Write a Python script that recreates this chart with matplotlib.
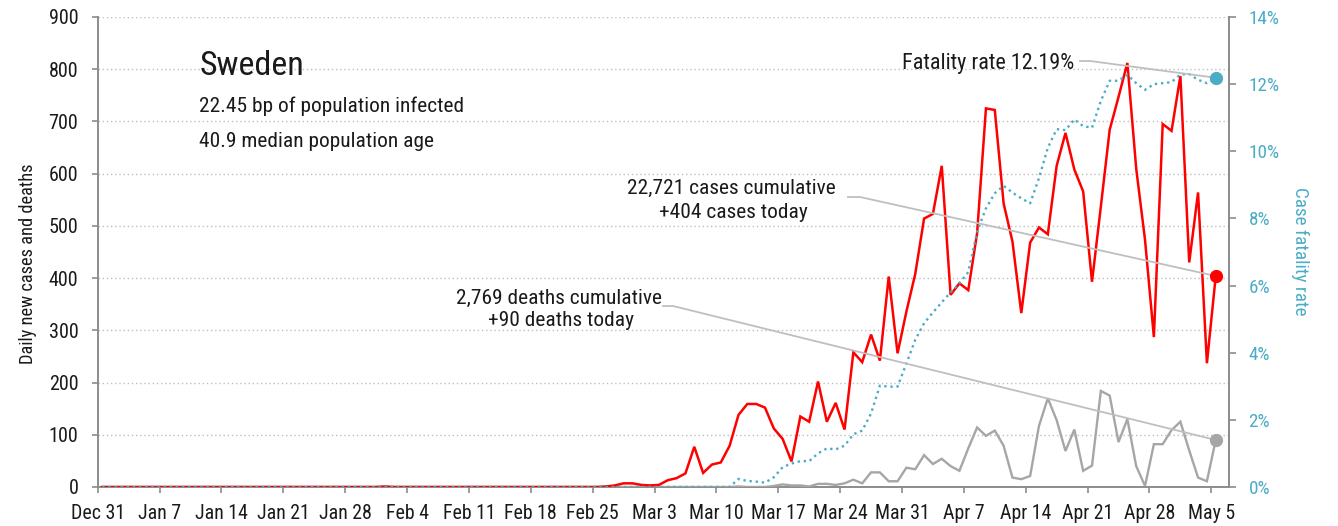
import matplotlib
matplotlib.use("Agg")
import matplotlib.pyplot as plt
import matplotlib.dates as mdates
from matplotlib.lines import Line2D
import pandas as pd

# ---------------- data ----------------
start_date = "2019-12-31"
country = "Sweden"
info_lines = ["22.45 bp of population infected", "40.9 median population age"]
total_cases = 22721
total_deaths = 2769
final_rate = 12.19

# daily new cases, Dec 31 .. May 5
cases = [
    0, 0, 0, 0, 0, 0, 0, 0, 0, 0, 0, 0, 0, 0, 0, 0,
    0, 0, 0, 0, 0, 0, 0, 0, 0, 0, 0, 0, 0, 0, 0, 0,
    1, 0, 0, 0, 0, 0, 0, 0, 0, 0, 0, 0, 0, 0, 0, 0,
    0, 0, 0, 0, 0, 0, 0, 0, 0,
    1, 3, 7, 7, 4, 3, 4, 13, 17, 26,
    77, 27, 43, 47, 79, 138, 159, 159, 152, 112,
    92, 49, 135, 125, 202, 125, 161, 110, 258, 239,
    292, 242, 403, 256, 336, 408, 514, 523, 615, 368,
    390, 377, 486, 725, 722, 543, 470, 333, 468, 497,
    484, 615, 678, 608, 566, 393, 537, 684, 747, 812,
    610, 473, 287, 695, 682, 787, 430, 564, 237, 404,
]

# daily new deaths
deaths = [
    0, 0, 0, 0, 0, 0, 0, 0, 0, 0, 0, 0, 0, 0, 0, 0,
    0, 0, 0, 0, 0, 0, 0, 0, 0, 0, 0, 0, 0, 0, 0, 0,
    0, 0, 0, 0, 0, 0, 0, 0, 0, 0, 0, 0, 0, 0, 0, 0,
    0, 0, 0, 0, 0, 0, 0, 0, 0, 0, 0, 0, 0, 0, 0, 0,
    0, 0, 0, 0, 0, 0, 0,
    0, 1, 0, 0, 0, 2, 5, 3, 3, 1,
    6, 6, 4, 7, 14, 7, 28, 28, 11, 11,
    37, 34, 61, 44, 54, 40, 31, 74, 114, 98,
    108, 79, 18, 15, 21, 117, 170, 128, 69, 110,
    31, 41, 184, 175, 86, 130, 40, 2, 82, 82,
    109, 125, 70, 18, 11, 90,
]

# case fatality rate, %
fatality_rate = [
    0, 0, 0, 0, 0, 0, 0, 0, 0, 0, 0, 0, 0, 0, 0, 0,
    0, 0, 0, 0, 0, 0, 0, 0, 0, 0, 0, 0, 0, 0, 0, 0,
    0, 0, 0, 0, 0, 0, 0, 0, 0, 0, 0, 0, 0, 0, 0, 0,
    0, 0, 0, 0, 0, 0, 0, 0, 0, 0, 0, 0, 0, 0, 0, 0,
    0, 0, 0, 0, 0, 0, 0, 0,
    0.24, 0.18, 0.16, 0.13, 0.29, 0.59, 0.70, 0.77, 0.77, 1.00,
    1.15, 1.12, 1.23, 1.57, 1.68, 2.19, 3.02, 2.99, 2.99, 3.68,
    4.38, 4.88, 5.20, 5.50, 5.80, 6.07, 6.40, 7.60, 8.30, 8.75,
    8.97, 8.77, 8.60, 8.45, 9.20, 10.10, 10.66, 10.63, 10.95, 10.75,
    10.70, 11.50, 12.10, 12.10, 12.28, 12.03, 11.83, 12.00, 12.03, 12.06,
    12.29, 12.30, 12.13, 12.03, 12.19,
]

left_ticks = [0, 100, 200, 300, 400, 500, 600, 700, 800, 900]
right_ticks = [0, 2, 4, 6, 8, 10, 12, 14]
tick_dates = pd.date_range("2019-12-31", "2020-05-05", freq="7D")

# ---------------- style ----------------
RED = "#FF0000"
GREY = "#A6A6A6"
BLUE = "#4BACC6"
LEADER = "#BFBFBF"
SPINE = "#8C8C8C"
TEXT = "#1A1A1A"
FONT = ["Roboto Condensed", "DejaVu Sans"]
plt.rcParams["font.family"] = FONT

W, H = 1338, 526
fig = plt.figure(figsize=(W / 100, H / 100), dpi=100)
ax = fig.add_axes([97.7 / W, 39 / H, (1229 - 97.7) / W, 470 / H])
ax2 = ax.twinx()

dates = pd.date_range(start_date, periods=len(cases), freq="D") + pd.Timedelta(hours=12)

ax.plot(dates, deaths, color=GREY, lw=1.7, zorder=3, solid_joinstyle="miter")
ax.plot(dates, cases, color=RED, lw=1.8, zorder=4, solid_joinstyle="miter")
ax2.plot(dates, fatality_rate, color=BLUE, lw=1.7, linestyle=(0, (1, 1.6)), zorder=3)

ax.set_xlim(pd.Timestamp("2019-12-31"), pd.Timestamp("2020-05-07"))
ax.set_ylim(0, 900)
ax2.set_ylim(0, 14)

ax.set_yticks(left_ticks)
ax.set_yticklabels([str(v) for v in left_ticks])
ax2.set_yticks(right_ticks)
ax2.set_yticklabels([f"{v}%" for v in right_ticks])
ax.set_xticks(tick_dates)
ax.set_xticklabels([f"{d:%b} {d.day}" for d in tick_dates])

ax.yaxis.grid(True, linestyle=(0, (1, 2)), color=LEADER, lw=1.0)
ax.set_axisbelow(True)

for a in (ax, ax2):
    a.spines["top"].set_visible(False)
    for s in ("left", "right", "bottom"):
        a.spines[s].set_color(SPINE)
        a.spines[s].set_linewidth(1.4)
ax.spines["right"].set_visible(False)
ax2.spines["left"].set_visible(False)
ax2.spines["bottom"].set_visible(False)

ax.tick_params(axis="y", length=4, width=1.2, color=SPINE, pad=10, labelsize=14.5, labelcolor=TEXT)
ax.tick_params(axis="x", length=4, width=1.2, color=SPINE, pad=8, labelsize=14.3, labelcolor=TEXT)
ax2.tick_params(axis="y", length=5, width=1.2, color=SPINE, pad=9, labelsize=13.8, labelcolor=BLUE)


def px(x, y):
    return (x / W, 1 - y / H)


fig.text(*px(28, 264), "Daily new cases and deaths", rotation=90, ha="center", va="center",
         fontsize=13.2, color=TEXT)
fig.text(*px(1300, 251), "Case fatality rate", rotation=270, ha="center", va="center",
         fontsize=13.8, color=BLUE)

fig.text(*px(200, 75), country, fontsize=24.5, color=TEXT, va="baseline")
fig.text(*px(199, 112), info_lines[0], fontsize=15.4, color=TEXT, va="baseline")
fig.text(*px(199, 147), info_lines[1], fontsize=15.4, color=TEXT, va="baseline")

last_date = dates[-1]
ANN = 15.4
fig.text(*px(731, 194), f"{total_cases:,} cases cumulative", fontsize=ANN, color=TEXT,
         ha="center", va="baseline")
fig.text(*px(733, 218), f"+{cases[-1]} cases today", fontsize=ANN, color=TEXT,
         ha="center", va="baseline")
fig.text(*px(559, 304), f"{total_deaths:,} deaths cumulative", fontsize=ANN, color=TEXT,
         ha="center", va="baseline")
fig.text(*px(561, 326), f"+{deaths[-1]} deaths today", fontsize=ANN, color=TEXT,
         ha="center", va="baseline")
fig.text(*px(902, 69), f"Fatality rate {final_rate:.2f}%", fontsize=15.9, color=TEXT,
         ha="left", va="baseline")

fig.canvas.draw()
inv = fig.transFigure.inverted()


def to_fig(a, x, y):
    return inv.transform(a.transData.transform((mdates.date2num(x), y)))


leaders = [
    (px(848, 197), px(860, 197), to_fig(ax, last_date, cases[-1])),
    (px(663, 306), px(673, 306), to_fig(ax, last_date, deaths[-1])),
    (px(1080, 61), px(1090, 61), to_fig(ax2, last_date, fatality_rate[-1])),
]
for p0, p1, p2 in leaders:
    ln = Line2D([p0[0], p1[0], p2[0]], [p0[1], p1[1], p2[1]], transform=fig.transFigure,
                color=LEADER, lw=1.3, clip_on=False, zorder=4)
    ax2.add_line(ln)

ax2.plot([last_date], [cases[-1]], "o", color=RED, ms=8.5, transform=ax.transData,
         zorder=6, clip_on=False)
ax2.plot([last_date], [deaths[-1]], "o", color=GREY, ms=8.5, transform=ax.transData,
         zorder=6, clip_on=False)
ax2.plot([last_date], [fatality_rate[-1]], "o", color=BLUE, ms=8.5, zorder=6, clip_on=False)
ax2.set_ylim(0, 14)
ax.set_xlim(pd.Timestamp("2019-12-31"), pd.Timestamp("2020-05-07"))

fig.savefig("out.png", dpi=100)
